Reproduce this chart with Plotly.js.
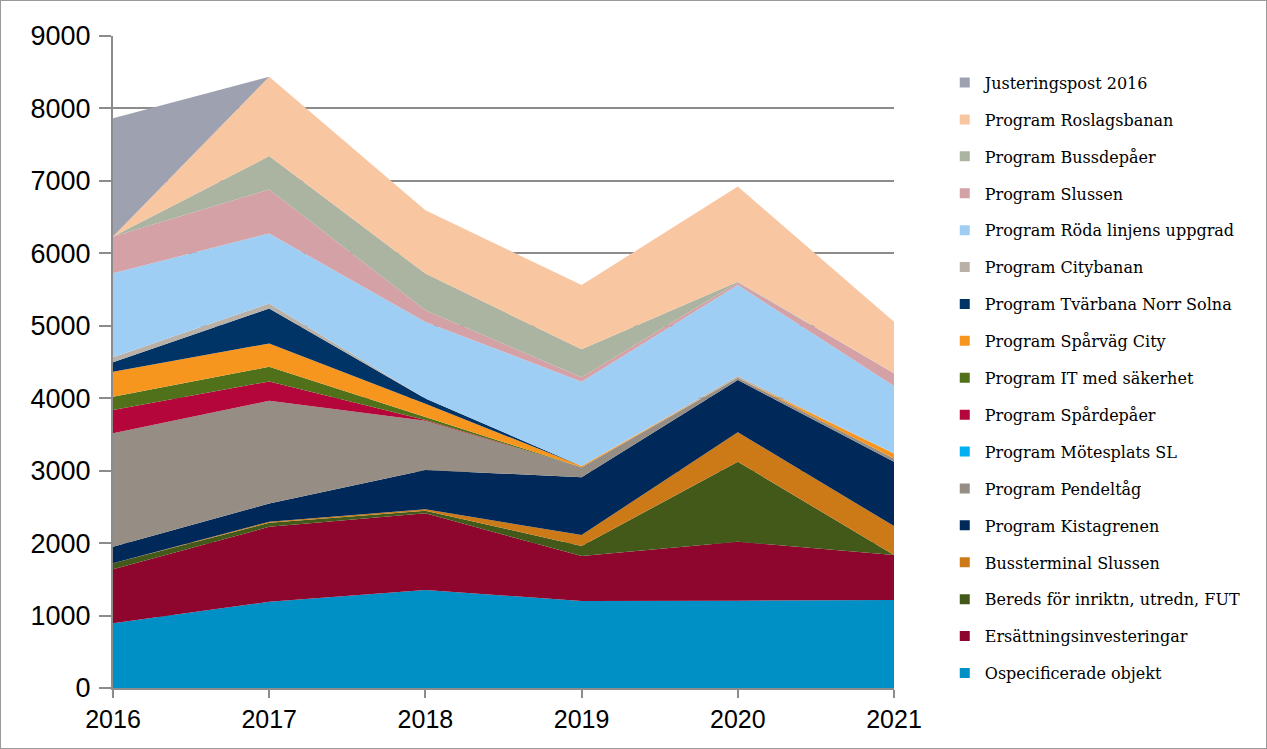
<!DOCTYPE html>
<html>
<head>
<meta charset="utf-8">
<script src="https://cdn.plot.ly/plotly-3.0.1.min.js"></script>
<style>
  html, body { margin: 0; padding: 0; background: #fff; }
  #wrap { width: 1267px; height: 749px; box-sizing: border-box; border: 1px solid #9a9a9a; overflow: hidden; }
  #chart { width: 1265px; height: 747px; }
</style>
</head>
<body>
<div id="wrap"><div id="chart"></div></div>
<script>
// ---- data ----
const years = [2016, 2017, 2018, 2019, 2020, 2021];

const ospecificerade   = [893, 1190, 1353, 1200, 1205, 1215];
const ersattning       = [745, 1035, 1058, 622, 815, 620];
const bereds           = [83, 55, 37, 138, 1104, 0];
const bussterminal     = [0, 14, 19, 152, 405, 400];
const kistagrenen      = [230, 253, 542, 797, 723, 888];
const pendeltag        = [1565, 1417, 681, 138, 30, 45];
const motesplats       = [0, 0, 0, 0, 0, 0];
const spardepaer       = [322, 268, 10, 0, 0, 0];
const itSakerhet       = [183, 202, 40, 0, 0, 0];
const sparvagCity      = [345, 322, 185, 18, 0, 70];
const tvarbana         = [130, 483, 70, 0, 0, 0];
const citybanan        = [69, 69, 0, 0, 25, 0];
const rodaLinjen       = [1160, 966, 1057, 1164, 1256, 930];
const slussen          = [506, 608, 161, 60, 36, 175];
const bussdepaer       = [0, 460, 507, 386, 10, 0];
const roslagsbanan     = [0, 1095, 873, 888, 1312, 713];
const justering        = [1633, 0, 0, 0, 0, 0];

const seriesNames = [
  "Ospecificerade objekt",
  "Ersättningsinvesteringar",
  "Bereds för inriktn, utredn, FUT",
  "Bussterminal Slussen",
  "Program Kistagrenen",
  "Program Pendeltåg",
  "Program Mötesplats SL",
  "Program Spårdepåer",
  "Program IT med säkerhet",
  "Program Spårväg City",
  "Program Tvärbana Norr Solna",
  "Program Citybanan",
  "Program Röda linjens uppgrad",
  "Program Slussen",
  "Program Bussdepåer",
  "Program Roslagsbanan",
  "Justeringspost 2016"
];
const seriesValues = [
  ospecificerade, ersattning, bereds, bussterminal, kistagrenen, pendeltag,
  motesplats, spardepaer, itSakerhet, sparvagCity, tvarbana, citybanan,
  rodaLinjen, slussen, bussdepaer, roslagsbanan, justering
];
const seriesColors = [
  "#0090c6", "#8e052d", "#43591a", "#cc7a18", "#00295a", "#968d84",
  "#00b0f0", "#b4063b", "#507119", "#f7961f", "#003366", "#b9b0a8",
  "#9fcef4", "#d4a1a7", "#aab4a1", "#f9c6a2", "#9ea2b0"
];

const traces = [];
// stacked areas
seriesNames.forEach((name, i) => {
  traces.push({
    type: "scatter",
    x: years,
    y: seriesValues[i],
    name: name,
    stackgroup: "one",
    mode: "none",
    fillcolor: seriesColors[i],
    line: { width: 0 },
    showlegend: false,
    hoverinfo: "x+y+name"
  });
});
// legend entries (top-down order as in the reference)
for (let i = seriesNames.length - 1; i >= 0; i--) {
  traces.push({
    type: "scatter",
    x: [null], y: [null],
    name: seriesNames[i],
    mode: "markers",
    marker: { symbol: "square", size: 10, color: seriesColors[i], line: { width: 0 } },
    legendgroup: "g" + i,
    showlegend: true,
    hoverinfo: "skip"
  });
}

const layout = {
  width: 1265,
  height: 747,
  margin: { l: 112, r: 372, t: 35, b: 60 },
  paper_bgcolor: "#ffffff",
  plot_bgcolor: "#ffffff",
  showlegend: true,
  legend: {
    x: 1.065, xanchor: "left",
    y: 0.9545, yanchor: "top",
    traceorder: "grouped",
    tracegroupgap: 13.1,
    font: { family: "DejaVu Serif", size: 16, color: "#000" },
    bgcolor: "rgba(0,0,0,0)"
  },
  xaxis: {
    type: "linear",
    range: [2016, 2021],
    tickvals: years,
    ticktext: years.map(String),
    showgrid: false,
    zeroline: false,
    showline: true,
    linecolor: "#8c8c8c",
    linewidth: 2,
    ticks: "outside",
    ticklen: 8,
    tickwidth: 2,
    tickcolor: "#8c8c8c",
    tickfont: { family: "Liberation Sans, Arial, sans-serif", size: 25, color: "#000" }
  },
  yaxis: {
    range: [0, 9000],
    tickvals: [0, 1000, 2000, 3000, 4000, 5000, 6000, 7000, 8000, 9000],
    showgrid: true,
    gridcolor: "#8c8c8c",
    gridwidth: 2,
    zeroline: false,
    showline: true,
    linecolor: "#8c8c8c",
    linewidth: 2,
    ticks: "outside",
    ticklen: 12,
    tickwidth: 2,
    tickcolor: "#8c8c8c",
    ticklabelstandoff: 3,
    tickfont: { family: "Liberation Sans, Arial, sans-serif", size: 27, color: "#000" }
  },
  hovermode: "closest"
};

Plotly.newPlot("chart", traces, layout, { displayModeBar: false });
</script>
</body>
</html>
